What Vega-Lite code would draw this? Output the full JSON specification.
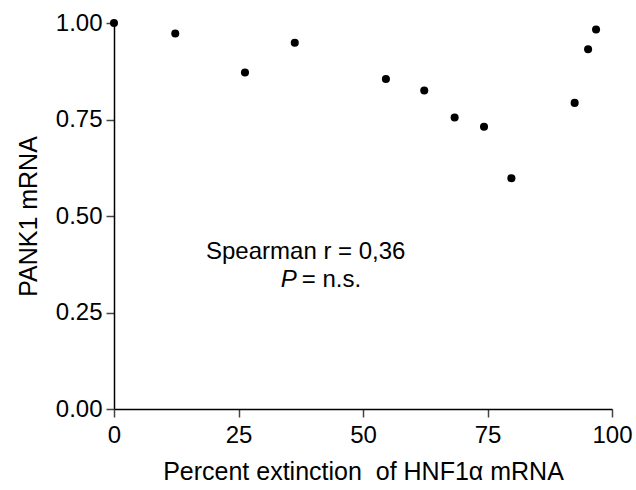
{
  "$schema": "https://vega.github.io/schema/vega-lite/v6.json",
  "autosize": {"type": "none"},
  "padding": {"left": 114, "top": 23, "right": 24, "bottom": 81},
  "width": 498,
  "height": 386,
  "background": "white",
  "config": {
    "view": {"stroke": null},
    "font": "Liberation Sans",
    "axis": {
      "grid": false,
      "domainColor": "black",
      "domainWidth": 1.5,
      "tickColor": "#444",
      "tickWidth": 1.5,
      "tickSize": 8,
      "labelFont": "Liberation Sans",
      "labelFontSize": 24,
      "labelColor": "black",
      "titleFont": "Liberation Sans",
      "titleFontSize": 25,
      "titleFontWeight": "normal",
      "titleColor": "black"
    }
  },
  "layer": [
    {
      "data": {"values": [
        {"extinction": 0, "pank1": 1.0},
        {"extinction": 12.3, "pank1": 0.973},
        {"extinction": 26.3, "pank1": 0.872},
        {"extinction": 36.3, "pank1": 0.949},
        {"extinction": 54.6, "pank1": 0.855},
        {"extinction": 62.3, "pank1": 0.825},
        {"extinction": 68.4, "pank1": 0.755},
        {"extinction": 74.3, "pank1": 0.731},
        {"extinction": 79.8, "pank1": 0.598},
        {"extinction": 92.5, "pank1": 0.793},
        {"extinction": 95.2, "pank1": 0.932},
        {"extinction": 96.8, "pank1": 0.983}
      ]},
      "mark": {"type": "point", "filled": true, "shape": "circle", "size": 65, "color": "black", "opacity": 1, "clip": false},
      "encoding": {
        "x": {
          "field": "extinction", "type": "quantitative",
          "scale": {"domain": [0, 100], "nice": false},
          "axis": {"values": [0, 25, 50, 75, 100], "title": "Percent extinction \u00a0of HNF1α mRNA", "labelPadding": 6, "titlePadding": 12, "labelFlush": false}
        },
        "y": {
          "field": "pank1", "type": "quantitative",
          "scale": {"domain": [0, 1], "nice": false},
          "axis": {"values": [0, 0.25, 0.5, 0.75, 1], "format": ".2f", "title": "PANK1 mRNA", "labelPadding": 4, "titlePadding": 14, "labelFlush": false}
        }
      }
    },
    {
      "data": {"values": [{"text": "Spearman r = 0,36", "x": 38.5, "y": 0.389}]},
      "mark": {"type": "text", "align": "center", "baseline": "alphabetic", "fontSize": 24, "font": "Liberation Sans", "color": "black"},
      "encoding": {
        "x": {"field": "x", "type": "quantitative"},
        "y": {"field": "y", "type": "quantitative"},
        "text": {"field": "text"}
      }
    },
    {
      "data": {"values": [{"text": "P", "x": 36.7, "y": 0.316}]},
      "mark": {"type": "text", "align": "right", "baseline": "alphabetic", "fontSize": 24, "fontStyle": "italic", "font": "Liberation Sans", "color": "black"},
      "encoding": {
        "x": {"field": "x", "type": "quantitative"},
        "y": {"field": "y", "type": "quantitative"},
        "text": {"field": "text"}
      }
    },
    {
      "data": {"values": [{"text": "= n.s.", "x": 37.7, "y": 0.316}]},
      "mark": {"type": "text", "align": "left", "baseline": "alphabetic", "fontSize": 24, "font": "Liberation Sans", "color": "black"},
      "encoding": {
        "x": {"field": "x", "type": "quantitative"},
        "y": {"field": "y", "type": "quantitative"},
        "text": {"field": "text"}
      }
    }
  ]
}
